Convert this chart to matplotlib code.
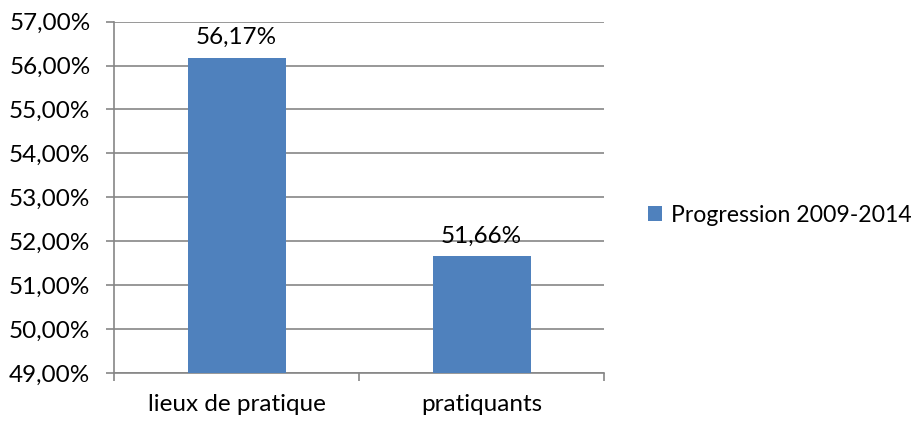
import matplotlib
matplotlib.use("Agg")
import matplotlib.pyplot as plt
from matplotlib.ticker import FuncFormatter

categories = ["lieux de pratique", "pratiquants"]
values = [56.17, 51.66]
series_name = "Progression 2009-2014"

plt.rcParams["font.family"] = ["Lato", "DejaVu Sans"]

BAR = "#4F81BD"
GRID = "#868686"
FS = 17.5


def pct(v, _=None):
    return f"{v:.2f}".replace(".", ",") + "%"


fig = plt.figure(figsize=(9.24, 4.22), dpi=100)
ax = fig.add_axes([0.1234, 0.1161, 0.5303, 0.8327])

x = list(range(len(categories)))
bars = ax.bar(x, values, width=0.4, color=BAR, label=series_name, zorder=3)

ax.set_ylim(49, 57)
ax.set_xlim(-0.5, 1.5)
ax.set_yticks([49 + i for i in range(9)])
ax.yaxis.set_major_formatter(FuncFormatter(pct))
ax.grid(axis="y", color=GRID, linewidth=1.2, zorder=0)

# category separators as major ticks, names as minor labels
ax.set_xticks([-0.5, 0.5, 1.5])
ax.set_xticklabels([])
ax.set_xticks(x, minor=True)
ax.set_xticklabels(categories, minor=True)
ax.tick_params(axis="x", which="major", length=6, width=1.2, color=GRID, direction="out")
ax.tick_params(axis="x", which="minor", length=0, pad=15, labelsize=FS)
ax.tick_params(axis="y", length=6, width=1.2, color=GRID, labelsize=FS, pad=11)

for s in ["top", "right"]:
    ax.spines[s].set_visible(False)
for s in ["left", "bottom"]:
    ax.spines[s].set_color(GRID)
    ax.spines[s].set_linewidth(1.2)

for b, v in zip(bars, values):
    ax.annotate(pct(v), (b.get_x() + b.get_width() / 2, v), xytext=(0, 7),
                textcoords="offset points", ha="center", va="bottom", fontsize=FS)

fig.legend(handles=[bars], labels=[series_name], loc="center left",
           bbox_to_anchor=(0.679, 0.49), frameon=False, fontsize=16.6,
           handlelength=0.6, handleheight=0.6, handletextpad=0.4)

fig.savefig("out.png", dpi=100)
